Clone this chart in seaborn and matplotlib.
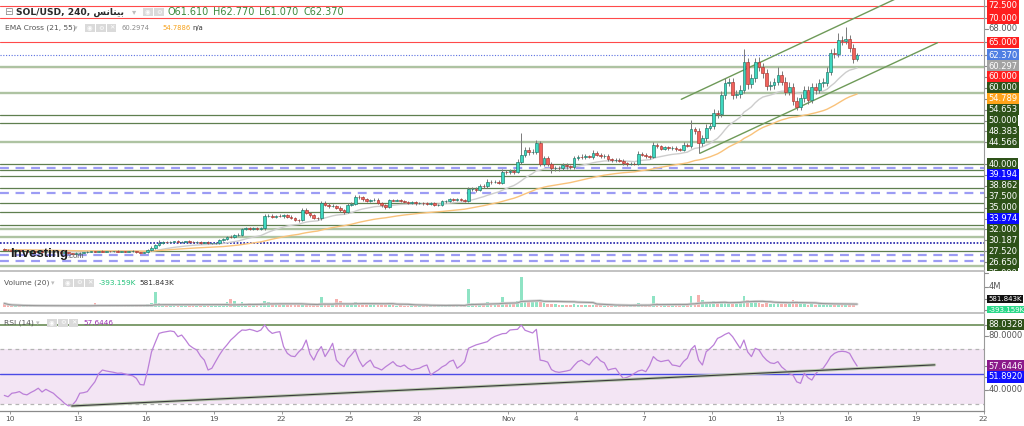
#! /usr/bin/env python3

"""Redraw a SOL/USD 4h candle chart with EMA cross, volume and RSI panes."""

import matplotlib
matplotlib.use("Agg")
import matplotlib.dates as mdates
import matplotlib.pyplot as plt
import numpy as np
import pandas as pd
import seaborn as sns
from matplotlib.transforms import Bbox, TransformedBbox

# ---------------------------------------------------------------- data
# 4h candles, first candle opens 2021-10-09 16:00, one row per day
first_open = 22.5
close = [
    22.4, 22.3,
    22.2, 22.3, 22.1, 22.2, 22.0, 22.1,
    22.0, 22.1, 21.9, 22.0, 21.9, 21.95,
    21.9, 21.8, 21.85, 21.7, 21.6, 21.7,
    21.8, 21.9, 22.0, 22.1, 22.0, 22.1,
    22.0, 22.1, 22.05, 22.1, 22.0, 22.1,
    22.0, 22.05, 22.1, 21.9, 21.8, 21.9,
    22.4, 22.8, 23.4, 23.8, 24.0, 23.9,
    24.0, 24.1, 23.9, 24.0, 24.1, 24.0,
    23.9, 24.0, 23.8, 23.9, 23.7, 23.7,
    23.8, 24.4, 24.6, 25.1, 25.0, 25.4,
    25.5, 26.6, 26.8, 26.7, 26.8, 26.7,
    26.8, 29.3, 29.4, 29.2, 29.4, 29.3,
    29.5, 29.2, 28.9, 28.6, 28.4, 30.6,
    30.0, 29.5, 29.0, 28.9, 32.0, 31.6,
    31.3, 31.4, 31.0, 30.5, 30.2, 31.6,
    31.8, 33.3, 33.2, 32.8, 32.4, 32.6,
    32.7, 32.0, 31.5, 31.2, 32.6, 32.5,
    32.6, 32.4, 32.2, 32.0, 32.1, 31.9,
    32.0, 31.9, 31.8, 31.9, 31.6, 31.6,
    32.3, 32.4, 32.8, 32.7, 32.8, 32.6,
    32.5, 34.8, 34.9, 34.7, 35.5, 35.4,
    36.4, 36.3, 36.4, 36.2, 38.4, 38.3,
    38.6, 38.4, 40.5, 41.9, 42.9, 42.4,
    42.5, 44.4, 40.1, 41.2, 40.1, 39.1,
    39.2, 39.1, 39.8, 39.5, 39.3, 41.2,
    41.5, 41.4, 41.6, 41.5, 42.3, 41.9,
    41.6, 41.7, 41.0, 40.8, 40.9, 40.7,
    40.2, 40.0, 40.1, 40.0, 42.1, 41.9,
    41.6, 41.5, 43.9, 43.6, 43.1, 43.4,
    43.2, 43.3, 43.0, 42.9, 43.9, 43.8,
    47.1, 46.8, 44.4, 45.3, 47.5, 47.8,
    50.4, 50.2, 54.2, 56.7, 56.8, 54.2,
    54.4, 55.3, 61.0, 56.4, 57.6, 61.0,
    60.0, 58.6, 56.0, 56.3, 56.9, 58.3,
    56.9, 54.9, 55.9, 53.0, 51.8, 53.5,
    55.2, 53.2, 55.9, 55.2, 56.7, 56.7,
    59.0, 62.9, 62.7, 65.5, 65.3, 65.6,
    63.8, 61.61, 62.37,
]
wick_up = [
    0.15, 0.1,
    0.1, 0.15, 0.1, 0.1, 0.15, 0.1,
    0.1, 0.1, 0.15, 0.1, 0.1, 0.1,
    0.1, 0.15, 0.1, 0.1, 0.1, 0.15,
    0.1, 0.1, 0.15, 0.1, 0.1, 0.1,
    0.15, 0.1, 0.1, 0.1, 0.15, 0.1,
    0.1, 0.1, 0.15, 0.1, 0.1, 0.1,
    0.2, 0.3, 0.2, 0.6, 0.2, 0.2,
    0.2, 0.15, 0.2, 0.1, 0.15, 0.2,
    0.15, 0.2, 0.1, 0.15, 0.2, 0.1,
    0.2, 0.2, 0.3, 0.2, 0.3, 0.2,
    0.3, 0.2, 0.3, 0.2, 0.2, 0.3,
    0.2, 0.4, 0.3, 0.3, 0.2, 0.3,
    0.3, 0.2, 0.3, 0.2, 0.2, 0.3,
    0.3, 0.2, 0.3, 0.2, 0.4, 0.3,
    0.3, 0.3, 0.2, 0.3, 0.2, 0.3,
    0.4, 0.4, 0.3, 0.3, 0.2, 0.3,
    0.3, 0.3, 0.2, 0.2, 0.3, 0.3,
    0.2, 0.3, 0.2, 0.2, 0.3, 0.2,
    0.2, 0.2, 0.3, 0.2, 0.2, 0.2,
    0.3, 0.2, 0.3, 0.2, 0.3, 0.2,
    0.2, 0.5, 0.3, 0.3, 0.4, 0.3,
    0.5, 0.3, 0.4, 0.3, 0.5, 0.4,
    0.4, 0.3, 0.6, 4.5, 0.6, 0.5,
    0.5, 0.6, 0.4, 0.5, 0.5, 0.4,
    0.4, 0.3, 0.5, 0.4, 0.3, 0.5,
    0.4, 0.5, 0.4, 0.3, 0.5, 0.4,
    0.4, 0.3, 0.4, 0.3, 0.3, 0.4,
    0.3, 0.3, 0.4, 0.3, 0.5, 0.4,
    0.4, 0.3, 0.7, 0.5, 0.4, 0.4,
    0.4, 0.3, 0.4, 0.3, 0.6, 0.5,
    1.9, 0.6, 0.5, 0.6, 0.8, 0.7,
    0.9, 0.7, 0.8, 1.0, 0.9, 0.8,
    0.8, 0.9, 2.6, 0.8, 0.9, 0.8,
    1.0, 0.8, 0.9, 0.8, 0.7, 1.7,
    0.8, 0.9, 1.0, 0.8, 0.7, 0.9,
    0.8, 0.9, 0.8, 0.7, 0.8, 0.9,
    0.9, 0.8, 1.0, 1.4, 0.8, 2.6,
    0.9, 0.8, 0.4,
]
wick_dn = [
    0.1, 0.1,
    0.1, 0.1, 0.15, 0.1, 0.1, 0.15,
    0.1, 0.15, 0.1, 0.1, 0.15, 0.1,
    0.1, 0.1, 0.15, 0.1, 0.15, 0.1,
    0.1, 0.1, 0.1, 0.15, 0.1, 0.1,
    0.1, 0.15, 0.1, 0.1, 0.1, 0.1,
    0.1, 0.1, 0.1, 0.15, 0.1, 0.1,
    0.1, 0.2, 0.2, 0.2, 0.2, 0.2,
    0.2, 0.1, 0.2, 0.2, 0.1, 0.2,
    0.2, 0.1, 0.2, 0.1, 0.2, 0.2,
    0.2, 0.3, 0.2, 0.2, 0.3, 0.2,
    0.2, 0.3, 0.2, 0.3, 0.2, 0.2,
    0.2, 0.3, 0.2, 0.3, 0.3, 0.2,
    0.3, 0.3, 0.2, 0.3, 0.3, 0.2,
    0.3, 0.3, 0.3, 0.4, 0.3, 0.3,
    0.3, 0.2, 0.3, 0.3, 0.4, 0.3,
    0.3, 0.3, 0.3, 0.4, 0.3, 0.3,
    0.3, 0.3, 0.3, 0.4, 0.3, 0.2,
    0.2, 0.3, 0.2, 0.3, 0.2, 0.3,
    0.2, 0.3, 0.2, 0.2, 0.3, 0.2,
    0.2, 0.3, 0.2, 0.3, 0.2, 0.3,
    0.3, 0.3, 0.3, 0.4, 0.3, 0.3,
    0.3, 0.4, 0.3, 0.4, 0.3, 0.4,
    0.4, 0.5, 0.3, 0.5, 0.4, 0.5,
    0.4, 0.5, 0.6, 0.5, 0.5, 1.0,
    0.5, 0.6, 0.4, 0.5, 0.4, 0.3,
    0.4, 0.3, 0.4, 0.3, 0.4, 0.3,
    0.3, 0.4, 0.3, 0.4, 0.3, 0.3,
    0.3, 0.4, 0.3, 0.3, 0.3, 0.3,
    0.3, 0.4, 0.3, 0.4, 0.3, 0.3,
    0.3, 0.3, 0.4, 0.3, 0.3, 0.4,
    0.5, 0.6, 2.1, 0.6, 0.5, 0.6,
    0.6, 0.7, 0.6, 0.8, 0.7, 0.8,
    0.7, 0.8, 0.8, 0.9, 0.8, 0.7,
    0.8, 0.9, 0.8, 0.7, 0.8, 0.7,
    0.7, 0.8, 0.7, 0.9, 0.8, 0.7,
    0.8, 0.9, 0.7, 0.8, 0.7, 0.8,
    0.7, 0.8, 0.9, 0.8, 0.8, 0.7,
    0.8, 0.9, 0.54,
]
# volume in millions
volume = [
    0.8, 0.4,
    0.3, 0.4, 0.3, 0.2, 0.3, 0.4,
    0.3, 0.2, 0.3, 0.4, 0.3, 0.2,
    0.3, 0.4, 0.3, 0.3, 0.5, 0.4,
    0.3, 0.4, 0.5, 0.4, 0.8, 0.3,
    0.3, 0.2, 0.3, 0.3, 0.2, 0.3,
    0.3, 0.2, 0.3, 0.4, 0.3, 0.4,
    0.6, 0.9, 3.0, 0.8, 0.5, 0.4,
    0.4, 0.3, 0.4, 0.3, 0.3, 0.4,
    0.3, 0.3, 0.4, 0.3, 0.4, 0.3,
    0.4, 0.6, 0.5, 1.0, 1.6, 1.2,
    0.6, 1.1, 0.5, 0.8, 0.4, 0.5,
    0.6, 1.2, 1.0, 0.6, 0.5, 0.4,
    0.5, 0.4, 0.5, 0.4, 0.5, 0.8,
    0.6, 0.5, 0.4, 0.5, 2.1, 0.7,
    0.5, 0.4, 1.6, 1.2, 0.6, 0.7,
    0.6, 1.1, 0.5, 0.9, 0.5, 0.4,
    0.4, 0.5, 0.4, 0.5, 0.8, 0.4,
    0.3, 0.4, 0.3, 0.3, 0.4, 0.3,
    0.3, 0.3, 0.4, 0.3, 0.3, 0.4,
    0.5, 0.4, 0.6, 0.5, 0.6, 0.4,
    0.4, 3.6, 0.8, 0.6, 0.9, 0.6,
    1.0, 0.7, 0.8, 0.6, 2.0, 0.8,
    0.7, 0.6, 1.2, 6.0, 1.4, 1.0,
    1.0, 1.1, 1.3, 0.8, 0.7, 0.6,
    0.6, 0.5, 0.4, 0.5, 0.4, 0.6,
    0.5, 0.4, 0.5, 0.4, 0.5, 0.4,
    0.4, 0.3, 0.4, 0.4, 0.3, 0.4,
    0.4, 0.3, 0.4, 0.5, 0.8, 0.6,
    0.5, 0.6, 2.3, 0.9, 0.5, 0.4,
    0.4, 0.5, 0.4, 0.4, 0.7, 0.5,
    2.2, 0.9, 2.5, 1.5, 1.1, 0.8,
    1.2, 0.8, 1.2, 1.0, 0.8, 1.1,
    0.8, 0.9, 2.3, 1.4, 0.9, 1.0,
    0.8, 0.7, 0.9, 0.6, 0.7, 0.8,
    0.6, 0.7, 0.6, 1.5, 1.2, 0.7,
    0.6, 0.5, 0.8, 0.5, 0.6, 0.5,
    0.5, 0.7, 0.5, 0.6, 0.5, 0.7,
    0.6, 0.5, 0.19,
]
rsi = [
    36.0, 35.0, 37.6, 38.0, 38.8, 37.0, 36.4, 38.1, 39.5, 41.3,
    38.5, 40.5, 39.0, 37.6, 35.0, 32.7, 30.0, 28.3, 28.8, 32.0,
    37.6, 38.0, 38.8, 42.5, 46.0, 52.0, 54.7, 54.0, 53.5, 53.0,
    52.3, 52.5, 51.8, 51.0, 50.5, 48.6, 44.0, 43.7, 54.7, 68.0,
    75.0, 81.7, 82.5, 83.0, 83.5, 83.0, 79.3, 80.5, 77.0, 73.0,
    71.0, 69.5, 65.0, 62.0, 54.7, 56.0, 61.0, 65.8, 70.0, 73.2,
    76.8, 79.3, 82.0, 84.2, 84.0, 84.7, 84.0, 83.0, 84.2, 88.0,
    84.0, 81.7, 82.5, 83.0, 72.0, 67.0, 65.0, 64.6, 68.0, 70.7,
    76.8, 66.5, 62.0, 68.0, 72.0, 64.6, 69.0, 74.4, 62.0, 59.0,
    57.2, 63.0, 66.0, 69.5, 62.0, 57.2, 60.0, 62.0, 57.0, 56.0,
    54.7, 57.0, 59.0, 60.9, 58.0, 57.2, 58.4, 56.0, 54.7, 55.5,
    56.0, 57.5, 58.4, 51.0, 53.0, 54.7, 57.0, 58.4, 61.0, 62.0,
    56.0, 58.0, 60.9, 70.7, 72.0, 73.2, 74.0, 74.8, 75.6, 78.0,
    79.5, 80.5, 81.5, 81.7, 84.2, 84.5, 84.7, 87.9, 84.0, 83.0,
    82.0, 84.7, 62.0, 61.5, 60.5, 55.0, 53.5, 53.0, 53.5, 54.0,
    54.7, 58.0, 60.9, 62.0, 60.0, 58.4, 62.0, 64.6, 61.5, 60.0,
    54.7, 55.5, 56.0, 52.0, 48.6, 49.3, 50.5, 52.3, 54.0, 54.7,
    53.5, 58.0, 64.6, 62.0, 60.9, 61.5, 62.0, 58.4, 58.0, 57.2,
    61.0, 63.4, 70.0, 72.8, 62.0, 58.4, 68.2, 70.5, 73.2, 78.0,
    79.3, 81.0, 82.2, 79.3, 75.0, 70.7, 76.8, 68.0, 64.6, 70.7,
    69.5, 65.0, 62.0, 60.0, 59.5, 60.9, 57.0, 54.7, 52.0, 51.0,
    46.0, 44.9, 52.3, 49.0, 47.3, 52.0, 54.7, 56.0, 60.0, 64.6,
    67.0, 68.2, 68.5, 68.2, 67.0, 62.0, 57.64,
]

# horizontal levels drawn on the price pane
levels_red = [72.5, 70.0, 65.0, 60.0]
levels_dark = [50.0, 48.383, 40.0, 38.862, 37.5, 35.0, 32.0, 30.187, 27.52, 22.1]
levels_light = [60.0, 54.653, 44.566, 26.65, 25.0, 19.1]
levels_dashed = [39.194, 33.974, 21.3, 20.1]
level_dotted = 23.7
last_price = 62.37

# hand drawn trend lines (time, value)
channel_upper = (["2021-11-08 15:36", "2021-11-18 05:00"], [53.30, 74.13])
channel_lower = (["2021-11-09 11:17", "2021-11-19 23:17"], [42.20, 64.93])
rsi_trend = (["2021-10-12 17:31", "2021-11-19 20:10"], [28.2, 58.5])

# value boxes on the right hand scale (value, text, box colour)
price_tags = [
    (72.5, "72.500", "#ff1f1f"), (70.0, "70.000", "#ff1f1f"),
    (68.0, "68.000", None), (65.0, "65.000", "#ff1f1f"),
    (62.37, "62.370", "#4f7fe3"), (60.297, "60.297", "#a3a3a3"),
    (60.0, "60.000", "#ff1f1f"), (60.0, "60.000", "#2e5219"),
    (54.789, "54.789", "#ffa31a"), (54.653, "54.653", "#2e5219"),
    (50.0, "50.000", "#2e5219"), (48.383, "48.383", "#2e5219"),
    (44.566, "44.566", "#2e5219"), (40.0, "40.000", "#2e5219"),
    (39.194, "39.194", "#0a0aff"), (38.862, "38.862", "#2e5219"),
    (37.5, "37.500", "#2e5219"), (35.0, "35.000", "#2e5219"),
    (33.974, "33.974", "#0a0aff"), (32.0, "32.000", "#2e5219"),
    (30.187, "30.187", "#2e5219"), (27.52, "27.520", "#2e5219"),
    (26.65, "26.650", "#2e5219"), (25.0, "25.000", "#2e5219"),
]
rsi_tags = [
    (88.0328, "88.0328", "#2e5219"), (80.0, "80.0000", None),
    (57.6446, "57.6446", "#8b1a8b"), (51.892, "51.8920", "#1010ff"),
    (40.0, "40.0000", None),
]
vol_tags = [(-0.393159, "-393.159K", "#2bd98a"), (0.581843, "581.843K", "#111111")]

tick_dates = ["2021-10-10", "2021-10-13", "2021-10-16", "2021-10-19",
              "2021-10-22", "2021-10-25", "2021-10-28", "2021-11-01",
              "2021-11-04", "2021-11-07", "2021-11-10", "2021-11-13",
              "2021-11-16", "2021-11-19", "2021-11-22"]
tick_labels = ["10", "13", "16", "19", "22", "25", "28", "Nov",
               "4", "7", "10", "13", "16", "19", "22"]

W, H = 1024, 426
PLOT_W = 984


def panel(fig, top, bottom):
    """Add an axes spanning pixel rows top..bottom."""
    ax = fig.add_axes([0.0, 1 - bottom / H, PLOT_W / W, (bottom - top) / H])
    for side in ("left", "top"):
        ax.spines[side].set_visible(False)
    ax.spines["right"].set_color("#9a9a9a")
    ax.spines["right"].set_linewidth(0.8)
    ax.spines["bottom"].set_color("#b8b8b8")
    ax.spines["bottom"].set_linewidth(1.2)
    ax.set_yticks([])
    ax.set_facecolor("white")
    return ax


def right_tag(ax, y_axes, text, bg, size=6.0):
    """One value label on the right scale, clipped to its pane."""
    ax.plot([1.0, 1.004], [y_axes, y_axes], transform=ax.transAxes,
            color="#8c8c8c", lw=0.8, clip_on=False)
    kw = {}
    if bg:
        kw["bbox"] = dict(boxstyle="square,pad=0.14", fc=bg, ec="none")
    t = ax.text(1.0045, y_axes, text, transform=ax.transAxes, fontsize=size,
                color="white" if bg else "#555555", ha="left", va="center", **kw)
    t.set_clip_box(TransformedBbox(Bbox.from_extents(0, 0, 1.2, 1), ax.transAxes))
    t.set_clip_on(True)


def stack_down(ax, tags, height_px, gap=10.9):
    """Place labels at their value, pushing overlapping ones downwards."""
    lo, hi = ax.get_ylim()
    prev = None
    for val, text, bg in tags:
        ypx = (hi - val) / (hi - lo) * height_px
        if prev is not None and ypx < prev + gap:
            ypx = prev + gap
        prev = ypx
        right_tag(ax, 1 - ypx / height_px, text, bg)


def stack_up(ax, tags, height_px, gap=10.9, floor=3.0):
    """Place labels from the bottom up, keeping them inside the pane."""
    lo, hi = ax.get_ylim()
    prev = None
    for val, text, bg in tags:
        ypx = max((val - lo) / (hi - lo) * height_px, floor)
        if prev is not None and ypx < prev + gap:
            ypx = prev + gap
        prev = ypx
        right_tag(ax, ypx / height_px, text, bg, size=5.0)


def ftext(x, y, s, **kw):
    """Figure text placed in pixel units from the top left."""
    kw.setdefault("va", "center")
    kw.setdefault("ha", "left")
    return plt.gcf().text(x / W, 1 - y / H, s, **kw)


def icons(x, y, glyphs):
    for k, g in enumerate(glyphs):
        ftext(x + k * 11, y, g, fontsize=4.6, color="white",
              bbox=dict(boxstyle="square,pad=0.3", fc="#dadada", ec="none"))


def draw_chart():
    sns.set_theme(style="white")
    plt.rcParams["font.family"] = ["DejaVu Sans"]

    times = pd.date_range("2021-10-09 18:00", periods=len(close), freq="4h")
    x = mdates.date2num(times)
    c = np.array(close)
    o = np.array([first_open] + close[:-1])
    hi = np.maximum(o, c) + np.array(wick_up)
    lo = np.minimum(o, c) - np.array(wick_dn)
    up = c >= o
    width = 0.72 / 6

    fig = plt.figure(figsize=(W / 100, H / 100), dpi=100)
    ax = panel(fig, 0, 271)
    ax_v = panel(fig, 272, 313)
    ax_r = panel(fig, 314, 411)
    ax_r.spines["bottom"].set_color("#8a8a8a")
    ax_r.spines["bottom"].set_linewidth(0.9)

    x_left = mdates.date2num(pd.Timestamp("2021-10-10")) - 0.44
    x_right = mdates.date2num(pd.Timestamp("2021-11-22")) + 0.02
    for a in (ax, ax_v, ax_r):
        a.set_xlim(x_left, x_right)
    ax.set_ylim(18.02, 73.70)
    ax_v.set_ylim(-1.07, 6.89)
    ax_r.set_ylim(24.5, 96.0)

    # price levels
    for v in levels_red:
        ax.axhline(v, color="#ff4a4a", lw=0.8, zorder=1)
    for v in levels_light:
        ax.axhline(v, color="#aec3a2", lw=1.7, zorder=1)
    for v in levels_dark:
        ax.axhline(v, color="#5f7f4f", lw=0.9, zorder=1)
    for v in levels_dashed:
        ax.axhline(v, color="#9c9cf4", lw=1.6, ls=(0, (4, 3)), zorder=1)
    ax.axhline(level_dotted, color="#2020a8", lw=1.2, ls=(0, (1, 1)), zorder=1)
    ax.axhline(last_price, color="#5a6fe0", lw=0.8, ls=(0, (1, 1.5)), zorder=1)

    # channel
    for pts, vals in (channel_upper, channel_lower):
        ax.plot(mdates.date2num(pd.to_datetime(pts)), vals, color="#6e9a58", lw=1.0, zorder=2)

    # moving averages
    ema21 = pd.Series(close).ewm(span=21, adjust=False).mean()
    ema55 = pd.Series(close).ewm(span=55, adjust=False).mean()
    sns.lineplot(x=x, y=ema21.values, ax=ax, color="#cdcdcd", lw=1.0, legend=False, zorder=2)
    sns.lineplot(x=x, y=ema55.values, ax=ax, color="#f9c27a", lw=1.0, legend=False, zorder=2)

    # candles
    ax.vlines(x, lo, hi, color="#7a7a7a", lw=0.7, zorder=3)
    body = np.maximum(np.abs(c - o), 0.05)
    bottom = np.minimum(o, c)
    ax.bar(x[up], body[up], width, bottom=bottom[up], color="#3ed8c0",
           edgecolor="#1d7566", lw=0.45, zorder=4)
    ax.bar(x[~up], body[~up], width, bottom=bottom[~up], color="#f0625c",
           edgecolor="#a8352f", lw=0.45, zorder=4)

    # volume
    vcol = np.where(up, "#8fe3c4", "#f6b0ae")
    ax_v.bar(x, volume, width, color=vcol, lw=0)
    vma = pd.Series(volume).rolling(20, min_periods=1).mean()
    sns.lineplot(x=x, y=vma.values, ax=ax_v, color="#d6d6d6", lw=2.0, legend=False)
    sns.lineplot(x=x, y=vma.values, ax=ax_v, color="#9a9a9a", lw=0.8, legend=False)

    # rsi
    ax_r.axhspan(30, 70, color="#f3e5f4", lw=0, zorder=0)
    ax_r.axhline(70, color="#b4b4b4", lw=0.9, ls=(0, (3, 3)))
    ax_r.axhline(30, color="#b4b4b4", lw=0.9, ls=(0, (3, 3)))
    ax_r.axhline(88.0328, color="#7f9d6e", lw=1.4)
    ax_r.axhline(51.892, color="#4a4ae6", lw=1.0)
    rsi_x = mdates.date2num(pd.date_range("2021-10-09 18:00", periods=len(rsi), freq="4h"))
    sns.lineplot(x=rsi_x, y=rsi, ax=ax_r, color="#bb7fd8", lw=0.9, legend=False)
    tx, tv = rsi_trend
    ax_r.plot(mdates.date2num(pd.to_datetime(tx)), tv, color="#b9c7b0", lw=2.2)
    ax_r.plot(mdates.date2num(pd.to_datetime(tx)), tv, color="#3a3a3a", lw=0.8)

    # x axis
    ax_r.set_xticks(mdates.date2num(pd.to_datetime(tick_dates)))
    ax_r.set_xticklabels(tick_labels, fontsize=5.4, color="#555555")
    ax_r.tick_params(axis="x", length=2.5, width=0.6, color="#8a8a8a", pad=1, bottom=True)
    for a in (ax, ax_v):
        a.tick_params(axis="x", bottom=False, labelbottom=False)

    # right hand scales
    stack_down(ax, price_tags, 271)
    stack_down(ax_r, rsi_tags, 97)
    lo_v, hi_v = ax_v.get_ylim()
    right_tag(ax_v, (4.0 - lo_v) / (hi_v - lo_v), "4M", None)
    stack_up(ax_v, vol_tags, 41)

    # legends
    ftext(4, 12, "\u229f", fontsize=7.5, color="#8a8a8a")
    ftext(16, 12, "SOL/USD, 240, \ufeb2\ufee7\ufe8e\ufee8\ufef4\ufe91",
          fontsize=6.6, color="#2a2a2a", fontweight="bold")
    ftext(132, 12, "\u25be", fontsize=6, color="#bdbdbd")
    icons(145, 12, ["\u25c9", "\u2699"])
    for xp, s in ((167, "O61.610"), (213, "H62.770"), (259, "L61.070"), (304, "C62.370")):
        ftext(xp, 12, s, fontsize=7.0, color="#3d8a3d")

    ftext(5, 28, "EMA Cross (21, 55)", fontsize=5.4, color="#555555")
    ftext(74, 28, "\u25be", fontsize=5, color="#bdbdbd")
    icons(87, 28, ["\u25c9", "\u2699", "\u2715"])
    ftext(122, 28, "60.2974", fontsize=4.9, color="#8a8a8a")
    ftext(162, 28, "54.7886", fontsize=4.9, color="#f7a21b")
    ftext(192, 28, "n/a", fontsize=4.9, color="#333333")

    ftext(4, 283, "Volume (20)", fontsize=5.4, color="#555555")
    ftext(51, 283, "\u25be", fontsize=5, color="#bdbdbd")
    icons(65, 283, ["\u25c9", "\u2699", "\u2715"])
    ftext(99, 283, "-393.159K", fontsize=5.2, color="#22c27a")
    ftext(139, 283, "581.843K", fontsize=5.2, color="#333333")

    ftext(4, 323, "RSI (14)", fontsize=5.4, color="#555555")
    ftext(36, 323, "\u25be", fontsize=5, color="#bdbdbd")
    icons(49, 323, ["\u25c9", "\u2699", "\u2715"])
    ftext(83, 323, "57.6446", fontsize=5.2, color="#9b30b0")

    # watermark
    ftext(10, 257, "Investing", fontsize=9.5, fontweight="bold",
          family=["Liberation Sans", "DejaVu Sans"], color="#1e1e1e", va="baseline")
    ftext(67, 258, ".com", fontsize=5.5, family=["Liberation Sans", "DejaVu Sans"],
          color="#555555", va="baseline")

    fig.savefig("out.png", dpi=100, facecolor="white")
    plt.close(fig)


if __name__ == "__main__":
    draw_chart()
